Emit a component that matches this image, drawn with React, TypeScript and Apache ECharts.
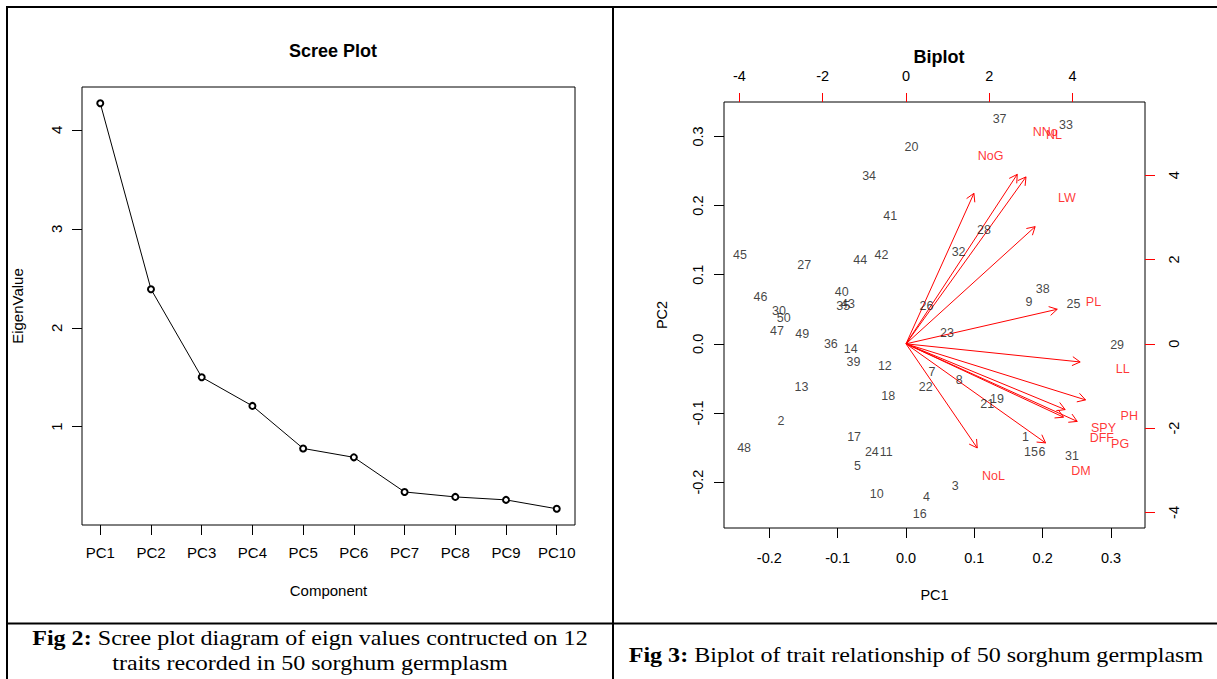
import React, { useEffect, useRef } from "react";
import * as echarts from "echarts";

// ---------- Scree plot data ----------
const components = ["PC1", "PC2", "PC3", "PC4", "PC5", "PC6", "PC7", "PC8", "PC9", "PC10"];
const eigenValues = [4.27, 2.39, 1.5, 1.21, 0.78, 0.69, 0.34, 0.29, 0.26, 0.17];
const screeYTicks = [1, 2, 3, 4];

// ---------- Biplot data ----------
const genotypes = [
  "1", "2", "3", "4", "5", "6", "7", "8", "9", "10",
  "11", "12", "13", "14", "15", "16", "17", "18", "19", "20",
  "21", "22", "23", "24", "25", "26", "27", "28", "29", "30",
  "31", "32", "33", "34", "35", "36", "37", "38", "39", "40",
  "41", "42", "43", "44", "45", "46", "47", "48", "49", "50",
];
const genoPC1 = [
  0.175, -0.183, 0.072, 0.03, -0.071, 0.199, 0.038, 0.078, 0.18, -0.043,
  -0.029, -0.031, -0.153, -0.081, 0.183, 0.02, -0.076, -0.026, 0.133, 0.008,
  0.119, 0.029, 0.06, -0.05, 0.245, 0.03, -0.149, 0.114, 0.309, -0.186,
  0.243, 0.077, 0.234, -0.054, -0.092, -0.11, 0.137, 0.2, -0.077, -0.094,
  -0.023, -0.036, -0.085, -0.067, -0.243, -0.213, -0.189, -0.237, -0.152, -0.179,
];
const genoPC2 = [
  -0.135, -0.111, -0.205, -0.221, -0.176, -0.157, -0.041, -0.052, 0.061, -0.217,
  -0.156, -0.032, -0.063, -0.007, -0.156, -0.246, -0.135, -0.076, -0.08, 0.284,
  -0.087, -0.063, 0.016, -0.156, 0.057, 0.054, 0.114, 0.165, -0.001, 0.047,
  -0.162, 0.133, 0.316, 0.243, 0.054, 0.0, 0.325, 0.079, -0.026, 0.075,
  0.185, 0.129, 0.058, 0.121, 0.129, 0.068, 0.018, -0.15, 0.014, 0.037,
];

const traits = ["NNo", "NL", "NoG", "LW", "PL", "LL", "PH", "SPY", "DFF", "PG", "DM", "NoL"];
const traitLabelX = [3.34, 3.55, 2.03, 3.86, 4.5, 5.2, 5.36, 4.74, 4.7, 5.14, 4.2, 2.1];
const traitLabelY = [5.03, 4.95, 4.45, 3.45, 0.99, -0.6, -1.71, -2.0, -2.23, -2.38, -3.02, -3.13];
const arrowTipX = [2.67, 2.88, 1.63, 3.1, 3.63, 4.18, 4.31, 3.82, 3.78, 4.11, 3.35, 1.71];
const arrowTipY = [4.02, 3.96, 3.57, 2.78, 0.82, -0.43, -1.33, -1.56, -1.74, -1.84, -2.35, -2.47];

const pcTicks = [-0.2, -0.1, 0.0, 0.1, 0.2, 0.3];
const loadingTicks = [-4, -2, 0, 2, 4];

const SANS = "'Liberation Sans', Arial, sans-serif";
const SERIF = "'Liberation Serif', 'Times New Roman', serif";

export default function App() {
  const ref = useRef<HTMLDivElement>(null);

  useEffect(() => {
    if (!ref.current) return;
    const chart = echarts.init(ref.current, undefined, { renderer: "svg" });

    const pcMin = -0.2664;
    const pcMax = 0.3498;
    const ratio = 16.4;
    const ldMin = pcMin * ratio;
    const ldMax = pcMax * ratio;

    const axisText = { color: "#000", fontFamily: SANS };
    const hiddenLine = { show: false, onZero: false };

    const captionStyle = {
      fontFamily: SERIF,
      fontSize: 21,
      fill: "#000",
      align: "center",
      verticalAlign: "middle",
      rich: { b: { fontWeight: "bold", fontFamily: SERIF, fontSize: 21, fill: "#000" } },
    };

    const option: any = {
      animation: false,
      textStyle: { fontFamily: SANS },
      title: [
        {
          text: "Scree Plot",
          left: 328,
          top: 37,
          textAlign: "center",
          textStyle: { fontSize: 18, fontWeight: "bold", color: "#000", fontFamily: SANS },
        },
        {
          text: "Biplot",
          left: 934,
          top: 43,
          textAlign: "center",
          textStyle: { fontSize: 18, fontWeight: "bold", color: "#000", fontFamily: SANS },
        },
      ],
      grid: [
        { left: 82, top: 87, width: 493, height: 438, show: true, borderColor: "#000", borderWidth: 1, backgroundColor: "transparent", containLabel: false },
        { left: 724, top: 102, width: 421, height: 426, show: true, borderColor: "#000", borderWidth: 1, backgroundColor: "transparent", containLabel: false },
      ],
      xAxis: [
        {
          gridIndex: 0,
          type: "value",
          min: 0.64,
          max: 10.36,
          splitLine: { show: false },
          axisLine: hiddenLine,
          axisTick: { show: true, inside: false, length: 10, customValues: [1, 2, 3, 4, 5, 6, 7, 8, 9, 10], lineStyle: { color: "#000" } },
          axisLabel: {
            ...axisText,
            fontSize: 15,
            margin: 20,
            customValues: [1, 2, 3, 4, 5, 6, 7, 8, 9, 10],
            formatter: (v: number) => components[Math.round(v) - 1] ?? "",
          },
          name: "Component",
          nameLocation: "middle",
          nameGap: 58,
          nameTextStyle: { ...axisText, fontSize: 15 },
        },
        {
          gridIndex: 1,
          type: "value",
          position: "bottom",
          min: pcMin,
          max: pcMax,
          splitLine: { show: false },
          axisLine: hiddenLine,
          axisTick: { show: true, length: 10, customValues: pcTicks, lineStyle: { color: "#000" } },
          axisLabel: { ...axisText, fontSize: 14.5, margin: 22, customValues: pcTicks, formatter: (v: number) => v.toFixed(1) },
          name: "PC1",
          nameLocation: "middle",
          nameGap: 59,
          nameTextStyle: { ...axisText, fontSize: 14.5 },
        },
        {
          gridIndex: 1,
          type: "value",
          position: "top",
          min: ldMin,
          max: ldMax,
          splitLine: { show: false },
          axisLine: hiddenLine,
          axisTick: { show: true, length: 9, customValues: loadingTicks, lineStyle: { color: "#ff0000" } },
          axisLabel: { ...axisText, fontSize: 14.5, margin: 19, customValues: loadingTicks, formatter: (v: number) => String(v) },
        },
      ],
      yAxis: [
        {
          gridIndex: 0,
          type: "value",
          min: 0.006,
          max: 4.434,
          splitLine: { show: false },
          axisLine: hiddenLine,
          axisTick: { show: true, length: 10, customValues: screeYTicks, lineStyle: { color: "#000" } },
          axisLabel: { ...axisText, fontSize: 15, rotate: 90, margin: 18, customValues: screeYTicks, formatter: (v: number) => String(v) },
          name: "EigenValue",
          nameLocation: "middle",
          nameGap: 57,
          nameRotate: 90,
          nameTextStyle: { ...axisText, fontSize: 15 },
        },
        {
          gridIndex: 1,
          type: "value",
          position: "left",
          min: pcMin,
          max: pcMax,
          splitLine: { show: false },
          axisLine: hiddenLine,
          axisTick: { show: true, length: 10, customValues: pcTicks, lineStyle: { color: "#000" } },
          axisLabel: { ...axisText, fontSize: 14.5, rotate: 90, margin: 19, customValues: pcTicks, formatter: (v: number) => v.toFixed(1) },
          name: "PC2",
          nameLocation: "middle",
          nameGap: 55,
          nameRotate: 90,
          nameTextStyle: { ...axisText, fontSize: 14.5 },
        },
        {
          gridIndex: 1,
          type: "value",
          position: "right",
          min: ldMin,
          max: ldMax,
          splitLine: { show: false },
          axisLine: hiddenLine,
          axisTick: { show: true, length: 10, customValues: loadingTicks, lineStyle: { color: "#ff0000" } },
          axisLabel: { ...axisText, fontSize: 14.5, rotate: 90, margin: 21, customValues: loadingTicks, formatter: (v: number) => String(v) },
        },
      ],
      series: [
        {
          type: "line",
          xAxisIndex: 0,
          yAxisIndex: 0,
          data: eigenValues.map((v, i) => [i + 1, v]),
          symbol: "emptyCircle",
          symbolSize: 6,
          showSymbol: true,
          lineStyle: { color: "#000", width: 1 },
          itemStyle: { color: "#000", borderColor: "#000", borderWidth: 1 },
        },
        {
          type: "custom",
          xAxisIndex: 2,
          yAxisIndex: 2,
          data: arrowTipX.map((x, i) => [x, arrowTipY[i]]),
          encode: { x: 0, y: 1 },
          renderItem: (_params: any, api: any) => {
            const tip = api.coord([api.value(0), api.value(1)]);
            const o = api.coord([0, 0]);
            const ang = Math.atan2(tip[1] - o[1], tip[0] - o[0]);
            const L = 9;
            const a = Math.PI / 6;
            const p1 = [tip[0] - L * Math.cos(ang - a), tip[1] - L * Math.sin(ang - a)];
            const p2 = [tip[0] - L * Math.cos(ang + a), tip[1] - L * Math.sin(ang + a)];
            const style = { stroke: "#ff0000", lineWidth: 1, fill: null };
            return {
              type: "group",
              children: [
                { type: "line", shape: { x1: o[0], y1: o[1], x2: tip[0], y2: tip[1] }, style },
                { type: "polyline", shape: { points: [p1, tip, p2] }, style },
              ],
            };
          },
        },
        {
          type: "scatter",
          xAxisIndex: 1,
          yAxisIndex: 1,
          data: genotypes.map((g, i) => ({ name: g, value: [genoPC1[i], genoPC2[i]] })),
          symbolSize: 1,
          itemStyle: { color: "rgba(0,0,0,0)" },
          label: {
            show: true,
            position: "inside",
            formatter: (p: any) => p.name,
            color: "#111",
            fontSize: 12.5,
            fontFamily: SANS,
          },
        },
        {
          type: "scatter",
          xAxisIndex: 2,
          yAxisIndex: 2,
          data: traits.map((t, i) => ({ name: t, value: [traitLabelX[i], traitLabelY[i]] })),
          symbolSize: 1,
          itemStyle: { color: "rgba(0,0,0,0)" },
          label: {
            show: true,
            position: "inside",
            formatter: (p: any) => p.name,
            color: "#ff0000",
            fontSize: 12.5,
            fontFamily: SANS,
          },
        },
      ],
      graphic: [
        { type: "line", shape: { x1: 6, y1: 7, x2: 1217, y2: 7 }, style: { stroke: "#000", lineWidth: 2 } },
        { type: "line", shape: { x1: 7, y1: 6, x2: 7, y2: 679 }, style: { stroke: "#000", lineWidth: 2 } },
        { type: "line", shape: { x1: 613, y1: 6, x2: 613, y2: 679 }, style: { stroke: "#000", lineWidth: 2 } },
        { type: "line", shape: { x1: 6, y1: 623.5, x2: 1217, y2: 623.5 }, style: { stroke: "#000", lineWidth: 2 } },
        {
          type: "text",
          x: 310,
          y: 638,
          scaleX: 1.145,
          style: { ...captionStyle, text: "{b|Fig 2:} Scree plot diagram of eign values contructed on 12" },
        },
        {
          type: "text",
          x: 310,
          y: 663,
          scaleX: 1.145,
          style: { ...captionStyle, text: "traits recorded in 50 sorghum germplasm" },
        },
        {
          type: "text",
          x: 916,
          y: 655,
          scaleX: 1.145,
          style: { ...captionStyle, text: "{b|Fig 3:} Biplot of trait relationship of 50 sorghum germplasm" },
        },
      ],
    };

    chart.setOption(option);
    return () => chart.dispose();
  }, []);

  return (
    <div
      ref={ref}
      style={{ position: "fixed", left: 0, top: 0, width: 1217, height: 679, background: "#fff" }}
    />
  );
}
